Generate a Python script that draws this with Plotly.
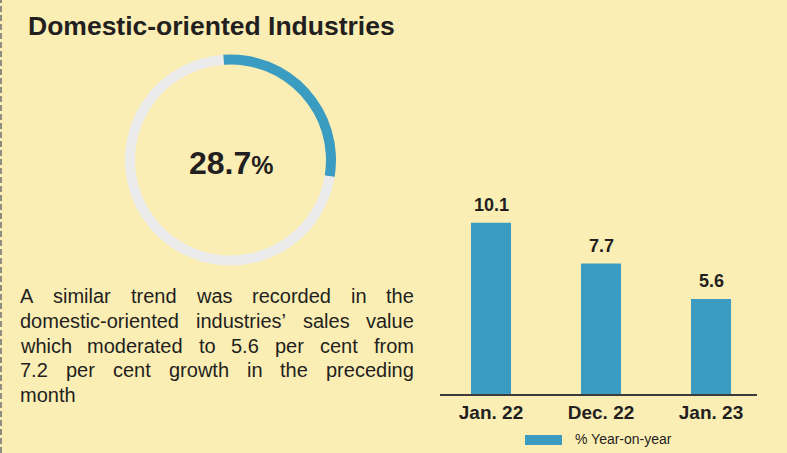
import plotly.graph_objects as go

W, H = 787, 453

title = "Domestic-oriented Industries"
share_value = 28.7
share_parts = [share_value, 100 - share_value]

categories = ["Jan. 22", "Dec. 22", "Jan. 23"]
yoy_values = [10.1, 7.7, 5.6]
legend_label = "% Year-on-year"

body_lines = [
    "A similar trend was recorded in the",
    "domestic-oriented industries\u2019 sales value",
    "which moderated to 5.6 per cent from",
    "7.2 per cent growth in the preceding",
    "month",
]

BG = "#FBEEB5"
BLUE = "#3A9CC1"
GREY_RING = "#EBEBEB"
INK = "#231F20"
FONT = "Liberation Sans, Arial, sans-serif"

# Arial advance widths (per 1000 em), used to justify the paragraph
ARIAL = {
    "a": 556, "b": 556, "c": 500, "d": 556, "e": 556, "f": 278, "g": 556, "h": 556,
    "i": 222, "j": 222, "k": 500, "l": 222, "m": 833, "n": 556, "o": 556, "p": 556,
    "q": 556, "r": 333, "s": 500, "t": 278, "u": 556, "v": 500, "w": 722, "x": 500,
    "y": 500, "z": 500, "A": 667, ".": 278, "-": 333, "\u2019": 222,
}
for d in "0123456789":
    ARIAL[d] = 556


def text_width(s, size):
    return sum(ARIAL.get(ch, 556) for ch in s) * size / 1000.0


def px(x):
    return x / W


def py(y):
    return 1 - y / H


fig = go.Figure()

# donut
fig.add_trace(go.Pie(
    values=share_parts,
    labels=["share", "rest"],
    hole=0.905,
    sort=False,
    direction="clockwise",
    rotation=-4,
    marker=dict(colors=[BLUE, GREY_RING], line=dict(width=0)),
    textinfo="none",
    hoverinfo="skip",
    showlegend=False,
    domain=dict(x=[px(125), px(336)], y=[py(266), py(54)]),
))

# bars
fig.add_trace(go.Bar(
    x=categories,
    y=yoy_values,
    marker=dict(color=BLUE, line=dict(width=0)),
    width=0.364,
    showlegend=False,
    hoverinfo="skip",
))

annotations = []

annotations.append(dict(
    x=px(26), y=py(26), xref="paper", yref="paper", xanchor="left", yanchor="middle",
    text=f"<b>{title}</b>", showarrow=False,
    font=dict(family=FONT, size=26.5, color=INK),
))

annotations.append(dict(
    x=px(232), y=py(163), xref="paper", yref="paper", xanchor="center", yanchor="middle",
    text=f"<b>{share_value}<span style='font-size:25px'>%</span></b>", showarrow=False,
    font=dict(family=FONT, size=32, color=INK),
))

# justified paragraph
size = 20
left, right = 19, 413
line_y = [296, 321, 345.5, 370, 395]
for i, line in enumerate(body_lines):
    words = line.split(" ")
    widths = [text_width(w, size) for w in words]
    last = i == len(body_lines) - 1
    gap = text_width(" ", size) if last or len(words) == 1 else (right - left - sum(widths)) / (len(words) - 1)
    xpos = left
    for w, wd in zip(words, widths):
        annotations.append(dict(
            x=px(xpos), y=py(line_y[i]), xref="paper", yref="paper",
            xanchor="left", yanchor="middle", text=w, showarrow=False, borderpad=0,
            font=dict(family=FONT, size=size, color=INK),
        ))
        xpos += wd + gap

# value labels
for c, v in zip(categories, yoy_values):
    annotations.append(dict(
        x=c, y=v, xref="x", yref="y", xanchor="center", yanchor="bottom", yshift=6,
        text=f"<b>{v}</b>", showarrow=False,
        font=dict(family=FONT, size=18, color=INK),
    ))

# legend
annotations.append(dict(
    x=px(573), y=py(439), xref="paper", yref="paper", xanchor="left", yanchor="middle",
    text=legend_label, showarrow=False,
    font=dict(family=FONT, size=14, color=INK),
))

shapes = [
    dict(type="line", xref="paper", yref="paper", x0=px(1), x1=px(1), y0=0, y1=1,
         line=dict(color="#6D6E71", width=1.5, dash="6px,3px")),
    dict(type="rect", xref="paper", yref="paper", x0=px(525), x1=px(562), y0=py(445), y1=py(435),
         fillcolor=BLUE, line=dict(width=0)),
]

fig.update_layout(
    width=W, height=H,
    margin=dict(l=0, r=0, t=0, b=0),
    paper_bgcolor=BG, plot_bgcolor=BG,
    annotations=annotations,
    shapes=shapes,
    xaxis=dict(
        domain=[px(440), px(757)],
        range=[-0.4636, 2.418],
        showgrid=False, zeroline=False,
        showline=True, linecolor="#3B3B3B", linewidth=1.5,
        ticks="", tickfont=dict(family=FONT, size=19, color=INK),
        tickvals=categories, ticktext=[f"<b>{c}</b>" for c in categories],
    ),
    yaxis=dict(
        domain=[py(394), py(180)],
        range=[0, 12.63],
        visible=False,
    ),
)

# the page body has a default 8px margin; drop it so the figure sits at 0,0
fig.write_html(
    "out.html",
    config={"displayModeBar": False},
    post_script="document.body.style.margin='0';document.body.style.overflow='hidden';",
)
